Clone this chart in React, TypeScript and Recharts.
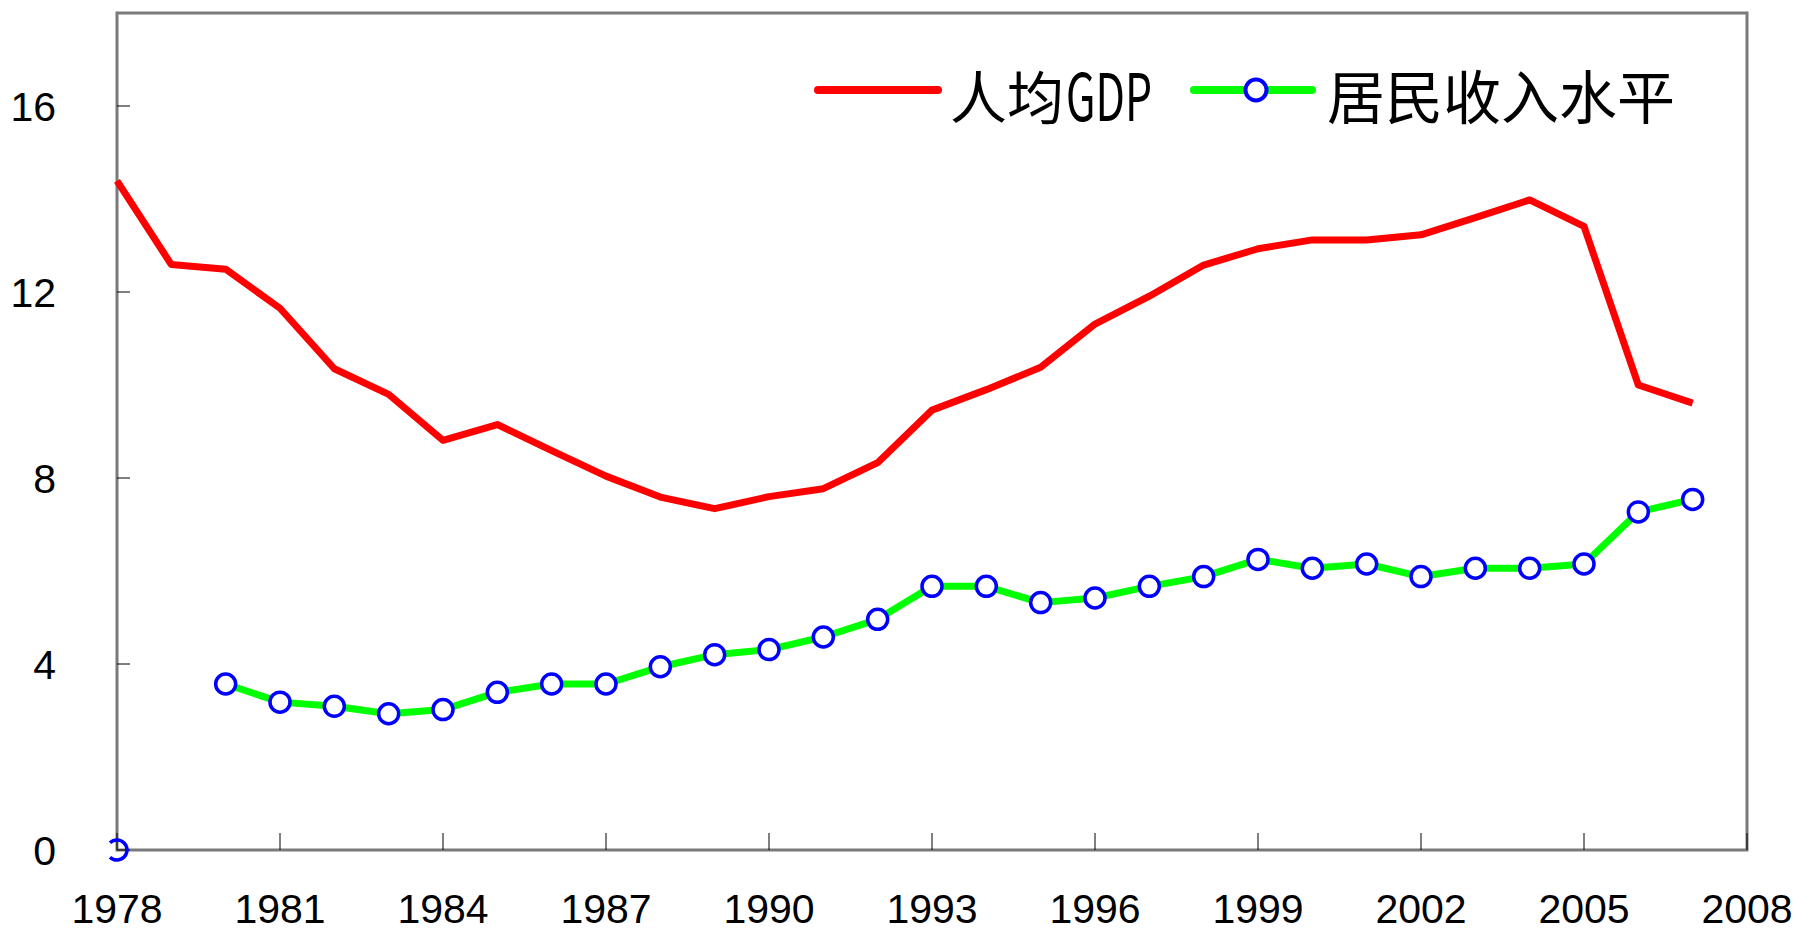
import { LineChart, Line, XAxis, YAxis, ReferenceArea } from "recharts";

const years = [
  1978, 1979, 1980, 1981, 1982, 1983, 1984, 1985, 1986, 1987, 1988, 1989, 1990, 1991, 1992,
  1993, 1994, 1995, 1996, 1997, 1998, 1999, 2000, 2001, 2002, 2003, 2004, 2005, 2006, 2007,
];

// 人均GDP
const gdp = [
  14.39, 12.59, 12.49, 11.65, 10.35, 9.8, 8.81, 9.15, 8.59, 8.04, 7.59, 7.34, 7.6, 7.77, 8.33,
  9.46, 9.9, 10.38, 11.31, 11.91, 12.58, 12.93, 13.12, 13.12, 13.23, 13.6, 13.98, 13.41, 10.0, 9.61,
];

// 居民收入水平
const income = [
  0, null, 3.57, 3.18, 3.09, 2.93, 3.02, 3.39, 3.57, 3.57, 3.94, 4.2, 4.31, 4.58, 4.96,
  5.67, 5.67, 5.32, 5.42, 5.67, 5.88, 6.25, 6.06, 6.15, 5.88, 6.06, 6.06, 6.15, 7.27, 7.54,
];

const xTicks = [1978, 1981, 1984, 1987, 1990, 1993, 1996, 1999, 2002, 2005, 2008];
const yTicks = [0, 4, 8, 12, 16];

const data = years.map((year, i) => ({ year, gdp: gdp[i], income: income[i] }));

const AXIS_GRAY = "#7a7a7a";
const tickFont = { fontFamily: "'Liberation Sans', Arial, sans-serif", fontSize: 41, fill: "#000" };
const cjkFont = "'Noto Sans CJK SC', sans-serif";

function IncomeDot(props: any) {
  const { cx, cy, index } = props;
  if (cx == null || cy == null || props.value == null) return <g key={`d${index}`} />;
  const r = 10;
  if (index === 0) {
    // first marker sits on the plot edge and is cut on its left side
    const cut = 7;
    const dy = Math.sqrt(r * r - cut * cut);
    return (
      <path
        key={`d${index}`}
        d={`M ${cx - cut} ${cy - dy} A ${r} ${r} 0 1 1 ${cx - cut} ${cy + dy}`}
        fill="none"
        stroke="#0000FF"
        strokeWidth={3.5}
      />
    );
  }
  return <circle key={`d${index}`} cx={cx} cy={cy} r={r} fill="#fff" stroke="#0000FF" strokeWidth={3.5} />;
}

export default function App() {
  return (
    <div style={{ position: "relative", width: 1794, height: 931, background: "#fff" }}>
      <style>{"body{margin:0}"}</style>
      <LineChart width={1794} height={931} data={data} margin={{ top: 13, right: 47, bottom: 0, left: 0 }}>
        <XAxis
          dataKey="year"
          type="number"
          domain={[1978, 2008]}
          ticks={xTicks}
          interval={0}
          height={81}
          axisLine={false}
          tickLine={{ stroke: "#000", strokeWidth: 1 }}
          tickSize={-17}
          tickMargin={61}
          tick={tickFont}
        />
        <YAxis
          type="number"
          domain={[0, 18]}
          ticks={yTicks}
          interval={0}
          width={117}
          axisLine={false}
          tickLine={{ stroke: "#000", strokeWidth: 1 }}
          tickSize={-13}
          tickMargin={74}
          tick={tickFont}
        />
        <ReferenceArea
          x1={1978}
          x2={2008}
          y1={0}
          y2={18}
          ifOverflow="visible"
          fill="none"
          fillOpacity={0}
          stroke={AXIS_GRAY}
          strokeWidth={3}
          strokeOpacity={1}
        />
        <Line
          dataKey="gdp"
          type="linear"
          stroke="#FF0000"
          strokeWidth={7}
          strokeLinejoin="round"
          dot={false}
          activeDot={false}
          isAnimationActive={false}
        />
        <Line
          dataKey="income"
          type="linear"
          stroke="#00FF00"
          strokeWidth={7}
          strokeLinejoin="round"
          connectNulls={false}
          dot={IncomeDot}
          activeDot={false}
          isAnimationActive={false}
        />
      </LineChart>
      <svg
        width={1794}
        height={931}
        style={{ position: "absolute", left: 0, top: 0, pointerEvents: "none" }}
      >
        <line x1={818} y1={90} x2={938} y2={90} stroke="#FF0000" strokeWidth={8} strokeLinecap="round" />
        <text x={950} y={94} dominantBaseline="central" fontFamily={cjkFont} fontSize={57} fill="#000">
          人均
        </text>
        <text
          x={1066}
          y={121}
          fontFamily={cjkFont}
          fontSize={65}
          fill="#000"
          textLength={86}
          lengthAdjust="spacingAndGlyphs"
        >
          GDP
        </text>
        <line x1={1194} y1={90} x2={1312} y2={90} stroke="#00FF00" strokeWidth={8} strokeLinecap="round" />
        <circle cx={1256} cy={90} r={10.5} fill="#fff" stroke="#0000FF" strokeWidth={4} />
        <text x={1327} y={94} dominantBaseline="central" fontFamily={cjkFont} fontSize={58} fill="#000">
          居民收入水平
        </text>
      </svg>
    </div>
  );
}
